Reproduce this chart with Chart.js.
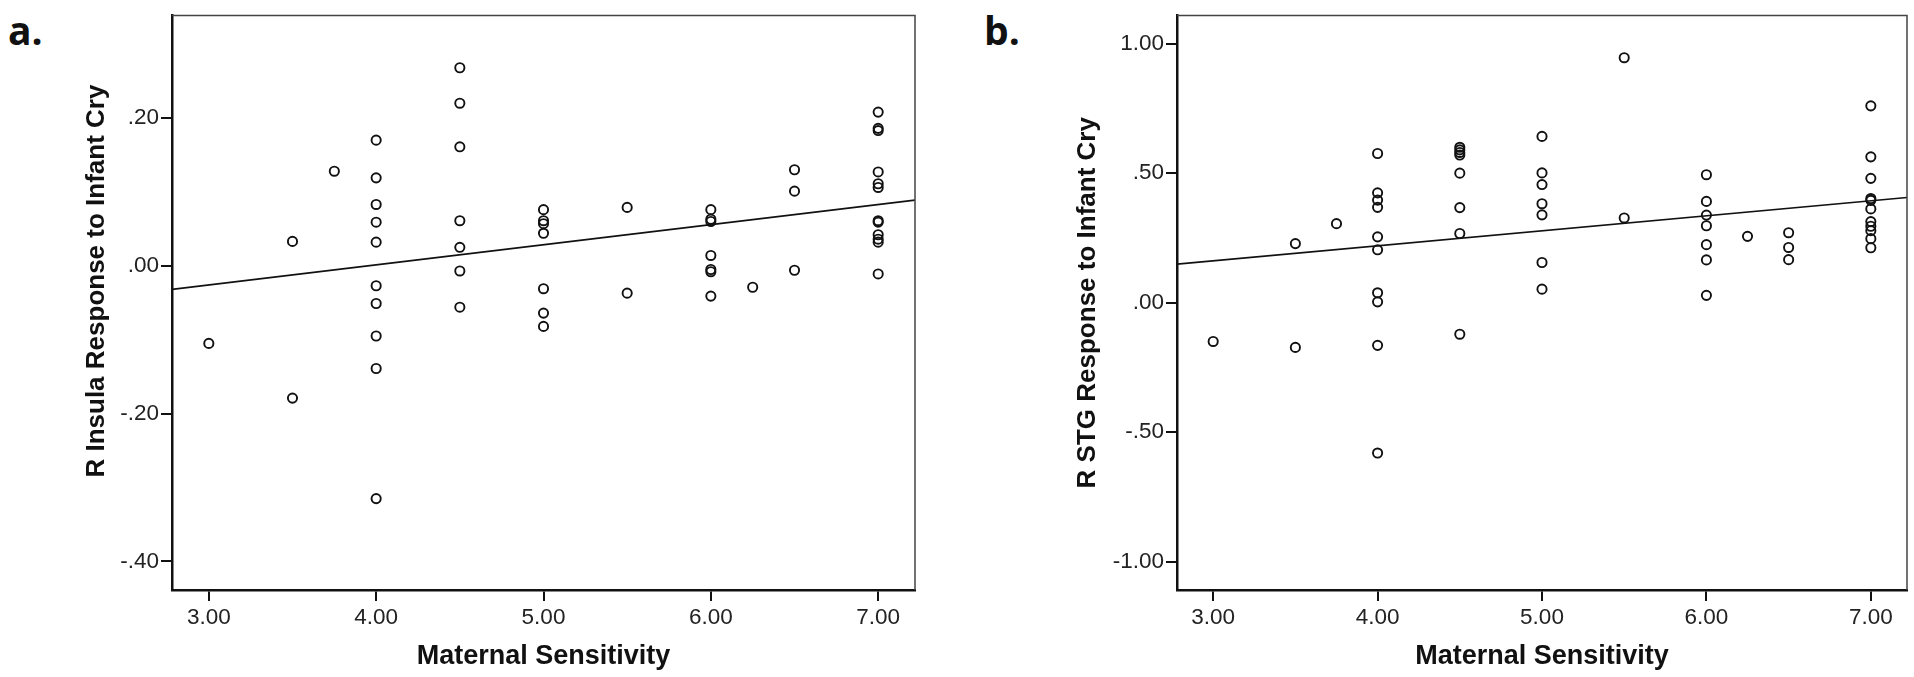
<!DOCTYPE html>
<html>
<head>
<meta charset="utf-8">
<script src="https://cdn.jsdelivr.net/npm/chart.js@4.4.1/dist/chart.umd.min.js"></script>
<style>
    html, body { margin: 0; padding: 0; background: #fff; }
    body { width: 1914px; height: 677px; position: relative; overflow: hidden; }
    .panel { position: absolute; top: 0; width: 957px; height: 677px; }
    .tag { position: absolute; font-family: 'Open Sans', sans-serif; font-weight: 700; font-size: 39px; line-height: 1; color: #111; }
</style>
</head>
<body>
<div class="tag" style="left:8px; top:10px;">a.</div>
<div class="tag" style="left:984px; top:10px;">b.</div>
<div class="panel" style="left:0;"><canvas id="chartA" width="957" height="677"></canvas></div>
<div class="panel" style="left:957px;"><canvas id="chartB" width="957" height="677"></canvas></div>
<script>
// 데이터
const xTicks = [3, 4, 5, 6, 7];
const xTickLabels = ['3.00', '4.00', '5.00', '6.00', '7.00'];

const yTicksA = [0.2, 0, -0.2, -0.4];
const yTickLabelsA = ['.20', '.00', '-.20', '-.40'];
const yTicksB = [1, 0.5, 0, -0.5, -1];
const yTickLabelsB = ['1.00', '.50', '.00', '-.50', '-1.00'];

// a. R Insula
const xA = [3.0, 3.5, 3.5, 3.75,
    4, 4, 4, 4, 4, 4, 4, 4, 4, 4,
    4.5, 4.5, 4.5, 4.5, 4.5, 4.5, 4.5,
    5, 5, 5, 5, 5, 5, 5,
    5.5, 5.5,
    6, 6, 6, 6, 6, 6, 6,
    6.25,
    6.5, 6.5, 6.5,
    7, 7, 7, 7, 7, 7, 7, 7, 7, 7, 7, 7];
const yA = [-0.105, 0.033, -0.179, 0.128,
    0.170, 0.119, 0.083, 0.059, 0.032, -0.027, -0.051, -0.095, -0.139, -0.315,
    0.268, 0.220, 0.161, 0.061, 0.025, -0.007, -0.056,
    0.076, 0.061, 0.057, 0.044, -0.031, -0.064, -0.082,
    0.079, -0.037,
    0.076, 0.063, 0.060, 0.014, -0.005, -0.008, -0.041,
    -0.029,
    0.130, 0.101, -0.006,
    0.208, 0.186, 0.183, 0.127, 0.111, 0.106, 0.061, 0.059, 0.042, 0.036, 0.032, -0.011];
const fitXA = [2.78, 7.22];
const fitYA = [-0.032, 0.089];

// b. R STG
const xB = [3.0, 3.5, 3.5, 3.75,
    4, 4, 4, 4, 4, 4, 4, 4, 4, 4,
    4.5, 4.5, 4.5, 4.5, 4.5, 4.5, 4.5, 4.5,
    5, 5, 5, 5, 5, 5, 5,
    5.5, 5.5,
    6, 6, 6, 6, 6, 6, 6,
    6.25,
    6.5, 6.5, 6.5,
    7, 7, 7, 7, 7, 7, 7, 7, 7, 7, 7];
const yB = [-0.150, 0.228, -0.173, 0.305,
    0.576, 0.424, 0.396, 0.368, 0.254, 0.204, 0.038, 0.003, -0.165, -0.581,
    0.600, 0.590, 0.580, 0.570, 0.500, 0.367, 0.267, -0.122,
    0.642, 0.501, 0.456, 0.382, 0.339, 0.155, 0.052,
    0.946, 0.327,
    0.494, 0.391, 0.338, 0.297, 0.224, 0.165, 0.028,
    0.256,
    0.270, 0.213, 0.166,
    0.760, 0.563, 0.480, 0.402, 0.395, 0.362, 0.313, 0.295, 0.278, 0.247, 0.212];
const fitXB = [2.78, 7.22];
const fitYB = [0.1485, 0.406];

const xRange = [2.78, 7.22];
const yRangeA = [-0.4387, 0.3387];
const yRangeB = [-1.11, 1.109];

const ink = '#111';
const fontFamily = "'Liberation Sans', Arial, sans-serif";

// 위쪽/오른쪽 테두리
const frame = {
    id: 'frame',
    afterDraw(chart) {
        const a = chart.chartArea;
        const ctx = chart.ctx;
        ctx.save();
        ctx.strokeStyle = '#444';
        ctx.lineWidth = 1.5;
        ctx.beginPath();
        ctx.moveTo(a.left, a.top);
        ctx.lineTo(a.right, a.top);
        ctx.lineTo(a.right, a.bottom);
        ctx.stroke();
        ctx.restore();
    }
};

function toPoints(xs, ys) {
    return xs.map((x, i) => ({ x: x, y: ys[i] }));
}

function makeScatter(id, cfg) {
    const ctx = document.getElementById(id);

    const data = {
        datasets: [
            {
                data: toPoints(cfg.xs, cfg.ys),
                pointStyle: 'circle',
                pointRadius: 4.6,
                backgroundColor: 'rgba(0,0,0,0)',
                borderColor: ink,
                borderWidth: 1.9
            },
            {
                data: toPoints(cfg.fitX, cfg.fitY),
                showLine: true,
                pointRadius: 0,
                borderColor: ink,
                borderWidth: 1.7
            }
        ]
    };

    const options = {
        responsive: false,
        animation: false,
        layout: { padding: { left: 0, top: 7, right: cfg.padRight, bottom: 0 } },
        plugins: {
            legend: { display: false },
            tooltip: { enabled: false }
        },
        scales: {
            x: {
                type: 'linear',
                min: xRange[0],
                max: xRange[1],
                afterBuildTicks: s => { s.ticks = xTicks.map(v => ({ value: v })); },
                afterFit: s => { s.height = 87; },
                grid: { drawOnChartArea: false, drawTicks: true, tickLength: 11, color: ink, lineWidth: 2 },
                border: { display: true, color: ink, width: 2.5 },
                ticks: {
                    padding: 3,
                    color: '#222',
                    font: { family: fontFamily, size: 22.5 },
                    callback: v => xTickLabels[xTicks.indexOf(v)]
                },
                title: {
                    display: true,
                    text: 'Maternal Sensitivity',
                    color: ink,
                    padding: { top: 0, bottom: 4 },
                    font: { family: fontFamily, size: 27, weight: 'bold' }
                }
            },
            y: {
                type: 'linear',
                min: cfg.yRange[0],
                max: cfg.yRange[1],
                afterBuildTicks: s => { s.ticks = cfg.yTicks.map(v => ({ value: v })); },
                afterFit: s => { s.width = cfg.yWidth; },
                grid: { drawOnChartArea: false, drawTicks: true, tickLength: 11, color: ink, lineWidth: 2 },
                border: { display: true, color: ink, width: 2.5 },
                ticks: {
                    padding: 2,
                    color: '#222',
                    font: { family: fontFamily, size: 22.5 },
                    callback: v => cfg.yLabels[cfg.yTicks.indexOf(v)]
                },
                title: {
                    display: true,
                    text: cfg.yTitle,
                    color: ink,
                    padding: { top: cfg.yTitlePad, bottom: 0 },
                    font: { family: fontFamily, size: 26, weight: 'bold' }
                }
            }
        }
    };

    new Chart(ctx, { type: 'scatter', data: data, options: options, plugins: [frame] });
}

makeScatter('chartA', {
    xs: xA, ys: yA, fitX: fitXA, fitY: fitYA,
    yRange: yRangeA, yTicks: yTicksA, yLabels: yTickLabelsA,
    yTitle: '      R Insula Response to Infant Cry',
    yWidth: 172, yTitlePad: 81, padRight: 42
});

makeScatter('chartB', {
    xs: xB, ys: yB, fitX: fitXB, fitY: fitYB,
    yRange: yRangeB, yTicks: yTicksB, yLabels: yTickLabelsB,
    yTitle: 'R STG Response to Infant Cry',
    yWidth: 220, yTitlePad: 115, padRight: 7
});
</script>
</body>
</html>
